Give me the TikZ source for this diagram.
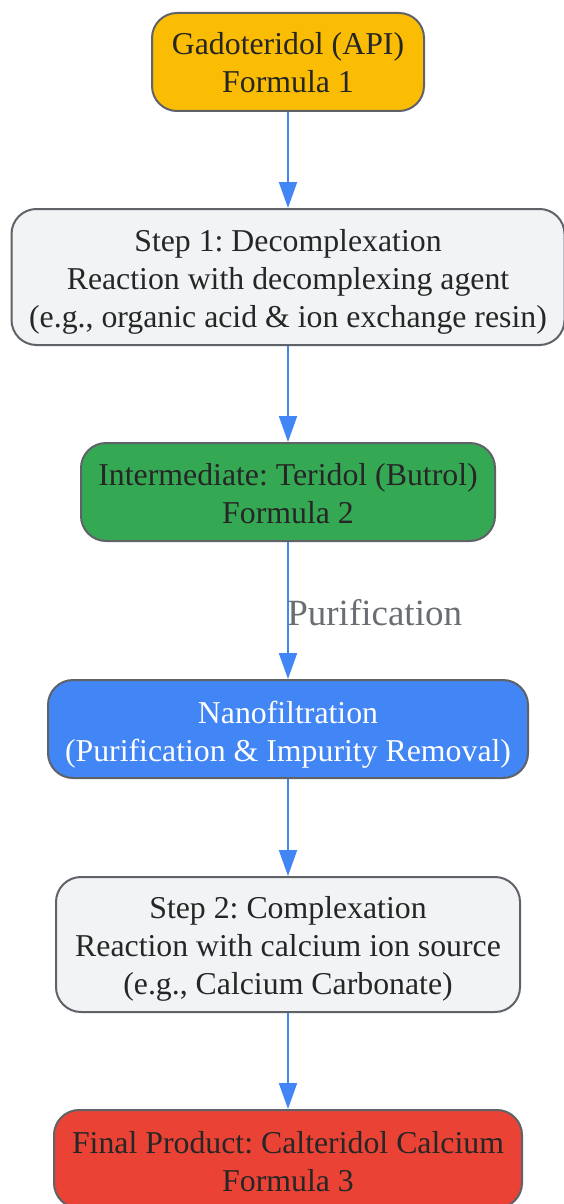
\documentclass[tikz,border=0pt]{standalone}
\usepackage{fontspec}
\setmainfont{Liberation Serif}
\usetikzlibrary{arrows.meta}
\definecolor{cyellow}{HTML}{FBBC04}
\definecolor{cgreen}{HTML}{34A853}
\definecolor{cblue}{HTML}{4285F4}
\definecolor{cred}{HTML}{EA4335}
\definecolor{clight}{HTML}{F1F3F4}
\definecolor{cborder}{HTML}{5F6368}
\definecolor{ctext}{HTML}{262626}
\definecolor{clabel}{HTML}{6A6E73}
\tikzset{
  box/.style={draw=cborder, line width=2pt, rounded corners=25pt, inner sep=0pt},
  txt/.style={align=center, inner sep=0pt, text=ctext,
    font=\fontsize{31.8}{38}\selectfont\frenchspacing},
  flow/.style={draw=cblue, line width=2pt, -{Triangle[length=26pt,width=18pt]}},
}
\begin{document}
\begin{tikzpicture}[x=1pt,y=-1pt]
\useasboundingbox (0,0) rectangle (564,1204);
\node[box, fill=cyellow, minimum width=272pt, minimum height=98pt] (n1) at (288,62) {};
\node[box, fill=clight, minimum width=553pt, minimum height=136pt] (n2) at (288,277) {};
\node[box, fill=cgreen, minimum width=414pt, minimum height=98pt] (n3) at (288,492) {};
\node[box, fill=cblue, minimum width=480pt, minimum height=98pt] (n4) at (288,729) {};
\node[box, fill=clight, minimum width=464pt, minimum height=135pt] (n5) at (288,944.5) {};
\node[box, fill=cred, minimum width=468pt, minimum height=98pt] (n6) at (288,1159) {};
\node[txt] (t1) at (288,63) {Gadoteridol (API)\\Formula 1};
\node[txt] (t2) at (288,282) {Step 1: Decomplexation\\Reaction with decomplexing agent\\(e.g., organic acid \& ion exchange resin)};
\node[txt] (t3) at (288,494) {Intermediate: Teridol (Butrol)\\Formula 2};
\node[txt, text=white] (t4) at (288,734.5) {Nanofiltration\\(Purification \& Impurity Removal)};
\node[txt] (t5) at (288,948.5) {Step 2: Complexation\\Reaction with calcium ion source\\(e.g., Calcium Carbonate)};
\node[txt] (t6) at (288,1161.5) {Final Product: Calteridol Calcium\\Formula 3};
\draw[flow] (n1) -- (n2);
\draw[flow] (n2) -- (n3);
\draw[flow] (n3) -- node[pos=0.5, right=-5pt, yshift=-2pt, text=clabel, font=\fontsize{37}{42}\selectfont] (lbl) {Purification} (n4);
\draw[flow] (n4) -- (n5);
\draw[flow] (n5) -- (n6);
\end{tikzpicture}
\end{document}
